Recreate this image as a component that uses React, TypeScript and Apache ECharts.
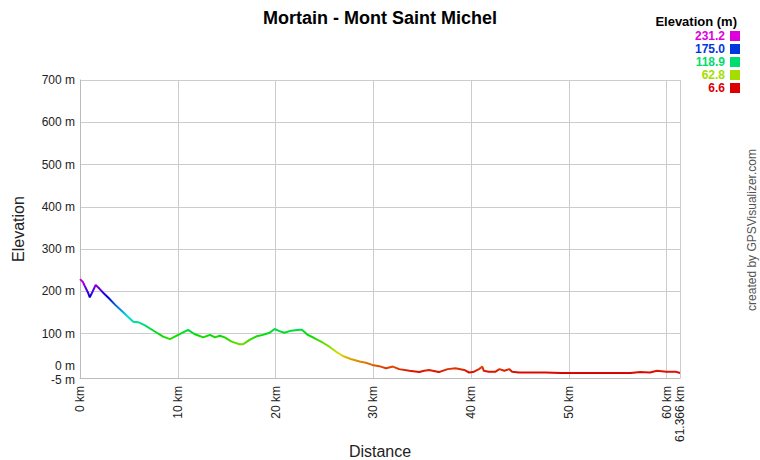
import React, { useEffect, useRef } from "react";
import * as echarts from "echarts";

const titleText = "Mortain - Mont Saint Michel";
const distanceKm = [
  0, 0.3, 0.5, 0.8, 1.0, 1.3, 1.6, 2.0, 2.4, 2.9, 3.6, 4.25, 4.9, 5.45, 5.95, 6.6, 7.65, 8.5, 9.2, 9.7,
  10.4, 11.05, 11.7, 12.6, 13.3, 13.8, 14.3, 14.8, 15.5, 16.3, 16.7, 17.35, 18.0, 18.7, 19.4, 19.9,
  20.4, 20.9, 21.6, 22.45, 22.7, 23.3, 24.0, 24.8, 25.5, 26.2, 26.9, 27.7, 28.6, 29.25, 29.9,
  30.6, 31.3, 32.0, 32.65, 33.7, 34.7, 35.2, 35.7, 36.7, 37.6, 38.4, 39.3, 39.8, 40.3, 40.8,
  41.15, 41.3, 41.8, 42.5, 42.9, 43.4, 43.9, 44.2, 44.9, 47.6, 49.2, 50.9, 52.6, 54.3, 56.3,
  57.3, 58.3, 59.0, 60.0, 60.9, 61.366,
];
const elevationM = [
  229, 222, 212, 198, 186, 200, 215, 206, 196, 185, 168, 154, 140, 128, 127, 120, 105, 93, 87, 93,
  101, 109, 99, 91, 97, 91, 95, 91, 81, 75, 75, 85, 93, 97, 102, 111,
  106, 102, 107, 109, 109, 97, 89, 79, 69, 57, 47, 40, 34, 31, 26,
  23, 18, 22, 16, 12, 9, 12, 14, 9, 16, 18, 14, 8, 10, 16,
  22, 12, 10, 10, 16, 12, 16, 10, 8, 8, 7, 7, 7, 7, 7,
  9, 8, 12, 10, 10, 7,
];
const xTicks = [0, 10, 20, 30, 40, 50, 60, 61.366];
const yLabels = [-5, 100, 200, 300, 400, 500, 600, 700];
const yZeroLabel = [0];
const yGrid = [-5, 100, 200, 300, 400, 500, 600, 700];
const legendValues = [231.2, 175.0, 118.9, 62.8, 6.6];
const elevMin = 6.6;
const elevMax = 231.2;

function hueColor(h: number): string {
  const v = 221;
  const hh = ((h % 360) + 360) % 360;
  const x = Math.round(v * (1 - Math.abs(((hh / 60) % 2) - 1)));
  let r = 0, g = 0, b = 0;
  if (hh < 60) { r = v; g = x; }
  else if (hh < 120) { r = x; g = v; }
  else if (hh < 180) { g = v; b = x; }
  else if (hh < 240) { g = x; b = v; }
  else if (hh < 300) { r = x; b = v; }
  else { r = v; b = x; }
  const hex = (n: number) => n.toString(16).padStart(2, "0");
  return "#" + hex(r) + hex(g) + hex(b);
}
const elevColor = (e: number) => hueColor((300 * (e - elevMin)) / (elevMax - elevMin));
const rampStops = [0, 30, 60, 90, 120, 150, 180, 210, 240, 270, 299.9];

const FONT = 'Arial, "Liberation Sans", sans-serif';

export default function App() {
  const ref = useRef<HTMLDivElement>(null);
  useEffect(() => {
    if (!ref.current) return;
    const chart = echarts.init(ref.current, undefined, { renderer: "svg" });
    const data = distanceKm.map((d, i) => [d, elevationM[i]]);
    const graphics: any[] = [
      {
        type: "text",
        x: 737,
        y: 21,
        style: { text: "Elevation (m)", fill: "#000", font: `bold 13px ${FONT}`, textAlign: "right", textVerticalAlign: "middle" },
      },
      {
        type: "text",
        x: 752,
        y: 230,
        rotation: Math.PI / 2,
        style: { text: "created by GPSVisualizer.com", fill: "#555", font: `12px ${FONT}`, textAlign: "center", textVerticalAlign: "middle" },
      },
    ];
    legendValues.forEach((v, i) => {
      const y = 36 + i * 13;
      graphics.push({
        type: "text",
        x: 725,
        y,
        style: { text: v.toFixed(1), fill: elevColor(v), font: `bold 12px ${FONT}`, textAlign: "right", textVerticalAlign: "middle", lineHeight: 12 },
      });
      graphics.push({
        type: "rect",
        shape: { x: 730, y: y - 5, width: 10, height: 10 },
        style: { fill: elevColor(v) },
      });
    });
    const labelStyle = { fontSize: 12, color: "#222", fontFamily: FONT };
    chart.setOption({
      animation: false,
      textStyle: { fontFamily: FONT },
      title: {
        text: titleText,
        left: "center",
        top: 4,
        textStyle: { fontSize: 18, fontWeight: "bold", color: "#000", fontFamily: FONT },
      },
      grid: { left: 80, right: 80, top: 80, bottom: 82, containLabel: false, outerBoundsMode: "none" },
      visualMap: {
        show: false,
        type: "continuous",
        dimension: 1,
        min: elevMin,
        max: elevMax,
        inRange: { color: rampStops.map((h) => hueColor(h)) },
      },
      xAxis: {
        type: "value",
        min: 0,
        max: 61.366,
        name: "Distance",
        nameLocation: "middle",
        nameGap: 65,
        nameMoveOverlap: false,
        nameTextStyle: { fontSize: 16, color: "#222", fontFamily: FONT },
        axisLine: { show: true, onZero: false, lineStyle: { color: "#bbb" } },
        axisTick: { show: false, customValues: xTicks },
        axisLabel: {
          ...labelStyle,
          customValues: xTicks,
          rotate: 90,
          margin: 8,
          showMinLabel: true,
          showMaxLabel: true,
          formatter: (v: number) => (Math.abs(v - 61.366) < 1e-6 ? "61.366 km" : `${v} km`),
        },
        splitLine: { show: true, lineStyle: { color: "#ccc", width: 1 } },
      },
      yAxis: [
        {
          type: "value",
          min: -5,
          max: 700,
          name: "Elevation",
          nameLocation: "middle",
          nameRotate: 90,
          nameGap: 54,
          nameMoveOverlap: false,
          nameTextStyle: { fontSize: 16, color: "#222", fontFamily: FONT },
          axisLine: { show: true, lineStyle: { color: "#bbb" } },
          axisTick: { show: false, customValues: yGrid },
          axisLabel: {
            ...labelStyle,
            customValues: yLabels,
            margin: 5,
            showMinLabel: true,
            showMaxLabel: true,
            formatter: (v: number) => (v === -5 ? `{low|${v} m}` : `${v} m`),
            rich: { low: { ...labelStyle, padding: [4, 0, 0, 0] } },
          },
          splitLine: { show: true, lineStyle: { color: "#ccc", width: 1 } },
        },
        {
          type: "value",
          min: -5,
          max: 700,
          position: "left",
          offset: 0,
          axisLine: { show: false },
          axisTick: { show: false, customValues: yZeroLabel },
          axisLabel: {
            ...labelStyle,
            customValues: yZeroLabel,
            margin: 5,
            verticalAlign: "bottom",
            lineHeight: 20,
            formatter: (v: number) => `${v} m`,
          },
          splitLine: { show: false },
        },
      ],
      series: [
        {
          type: "line",
          data,
          yAxisIndex: 0,
          showSymbol: false,
          symbol: "none",
          lineStyle: { width: 2 },
        },
      ],
      graphic: graphics,
    });
    return () => chart.dispose();
  }, []);
  return (
    <div
      ref={ref}
      style={{ position: "fixed", left: 0, top: 0, width: 760, height: 460, background: "#fff" }}
    />
  );
}
